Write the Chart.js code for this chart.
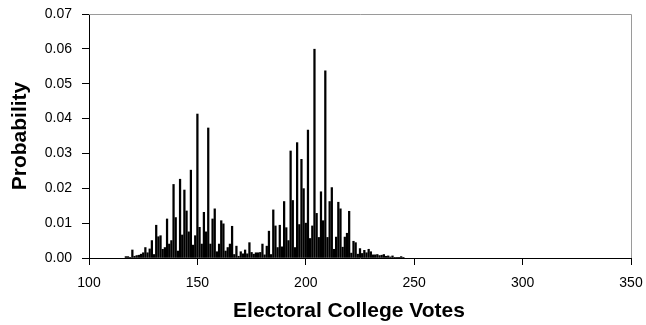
<!DOCTYPE html>
<html>
<head>
<meta charset="utf-8">
<script src="https://cdn.jsdelivr.net/npm/chart.js@4/dist/chart.umd.min.js"></script>
<style>
html,body{margin:0;padding:0;background:#fff;}
#wrap{width:646px;height:325px;}
</style>
</head>
<body>
<div id="wrap"><canvas id="c" width="646" height="325"></canvas></div>
<script>
const votes = [117,118,119,120,121,122,123,124,125,126,127,128,129,130,131,132,133,134,135,136,137,138,139,140,141,142,143,144,145,146,147,148,149,150,151,152,153,154,155,156,157,158,159,160,161,162,163,164,165,166,167,168,169,170,171,172,173,174,175,176,177,178,179,180,181,182,183,184,185,186,187,188,189,190,191,192,193,194,195,196,197,198,199,200,201,202,203,204,205,206,207,208,209,210,211,212,213,214,215,216,217,218,219,220,221,222,223,224,225,226,227,228,229,230,231,232,233,234,235,236,237,238,239,240,241,242,243,244,245];
const probability = [0.0004,0.0004,0.0002,0.0023,0.0005,0.0007,0.0008,0.0011,0.0015,0.0030,0.0015,0.0026,0.0050,0.0010,0.0094,0.0061,0.0064,0.0025,0.0030,0.0112,0.0040,0.0050,0.0211,0.0116,0.0020,0.0226,0.0066,0.0195,0.0135,0.0075,0.0252,0.0037,0.0064,0.0413,0.0088,0.0040,0.0131,0.0075,0.0373,0.0040,0.0112,0.0141,0.0018,0.0040,0.0107,0.0098,0.0020,0.0030,0.0040,0.0091,0.0010,0.0034,0.0005,0.0018,0.0012,0.0023,0.0012,0.0044,0.0016,0.0011,0.0015,0.0015,0.0016,0.0040,0.0009,0.0034,0.0077,0.0010,0.0138,0.0092,0.0030,0.0094,0.0032,0.0162,0.0087,0.0050,0.0307,0.0165,0.0030,0.0331,0.0096,0.0283,0.0199,0.0100,0.0367,0.0056,0.0092,0.0599,0.0128,0.0059,0.0190,0.0107,0.0537,0.0059,0.0162,0.0202,0.0025,0.0060,0.0160,0.0141,0.0031,0.0060,0.0071,0.0134,0.0014,0.0048,0.0044,0.0011,0.0027,0.0013,0.0022,0.0015,0.0025,0.0018,0.0009,0.0009,0.0010,0.0007,0.0008,0.0010,0.0005,0.0006,0.0003,0.0006,0.0002,0.0001,0.0002,0.0004,0.0001];
const xTicks = [100,150,200,250,300,350];
const yTicks = [0,0.01,0.02,0.03,0.04,0.05,0.06,0.07];
const xTitle = 'Electoral College Votes';
const yTitle = 'Probability';

const FONT = '"Liberation Sans", Arial, sans-serif';

const frame = {
  id: 'frame',
  afterDatasetsDraw(chart) {
    const {ctx, chartArea: a} = chart;
    ctx.save();
    ctx.strokeStyle = '#9a9a9a';
    ctx.lineWidth = 1;
    ctx.beginPath();
    ctx.moveTo(a.left, a.top + 0.5);
    ctx.lineTo(a.right + 0.5, a.top + 0.5);
    ctx.lineTo(a.right + 0.5, a.bottom);
    ctx.stroke();
    ctx.restore();
  },
  afterDraw(chart) {
    // x-axis title, centred slightly left of the plot centre as in the original
    const {ctx, chartArea: a} = chart;
    ctx.save();
    ctx.font = 'bold 21px ' + FONT;
    ctx.fillStyle = '#000';
    ctx.textAlign = 'center';
    ctx.textBaseline = 'middle';
    ctx.fillText(xTitle, (a.left + a.right) / 2 - 11, chart.height - 14);
    ctx.restore();
  }
};

new Chart(document.getElementById('c'), {
  type: 'bar',
  data: {
    datasets: [{
      data: votes.map((v, i) => ({x: v, y: probability[i]})),
      backgroundColor: '#000',
      borderWidth: 0,
      barThickness: 1.6
    }]
  },
  options: {
    responsive: false,
    animation: false,
    devicePixelRatio: 1,
    layout: {padding: {left: 0, right: 15, top: 14, bottom: 0}},
    plugins: {legend: {display: false}, tooltip: {enabled: false}},
    scales: {
      x: {
        type: 'linear',
        offset: false,
        min: 100, max: 350,
        afterFit: s => { s.height = 67; s.paddingLeft = 0; s.paddingRight = 0; },
        afterBuildTicks: s => { s.ticks = xTicks.map(v => ({value: v})); },
        grid: {display: true, offset: false, drawOnChartArea: false, drawTicks: true, tickLength: 7, tickColor: '#000'},
        border: {display: true, color: '#000', width: 1},
        ticks: {color: '#000', padding: 10, maxRotation: 0, font: {family: FONT, size: 14}},
        title: {display: false, text: xTitle}
      },
      y: {
        min: 0, max: 0.07,
        afterFit: s => { s.width = 89; s.paddingTop = 0; s.paddingBottom = 0; },
        afterBuildTicks: s => { s.ticks = yTicks.map(v => ({value: v})); },
        grid: {display: true, drawOnChartArea: false, drawTicks: true, tickLength: 7, tickColor: '#000'},
        border: {display: true, color: '#000', width: 1},
        ticks: {color: '#000', padding: 10, font: {family: FONT, size: 14}, callback: v => Number(v).toFixed(2)},
        title: {display: true, text: yTitle, color: '#000', padding: {top: 8, bottom: 0}, font: {family: FONT, size: 21, weight: 'bold'}}
      }
    }
  },
  plugins: [frame]
});
</script>
</body>
</html>
